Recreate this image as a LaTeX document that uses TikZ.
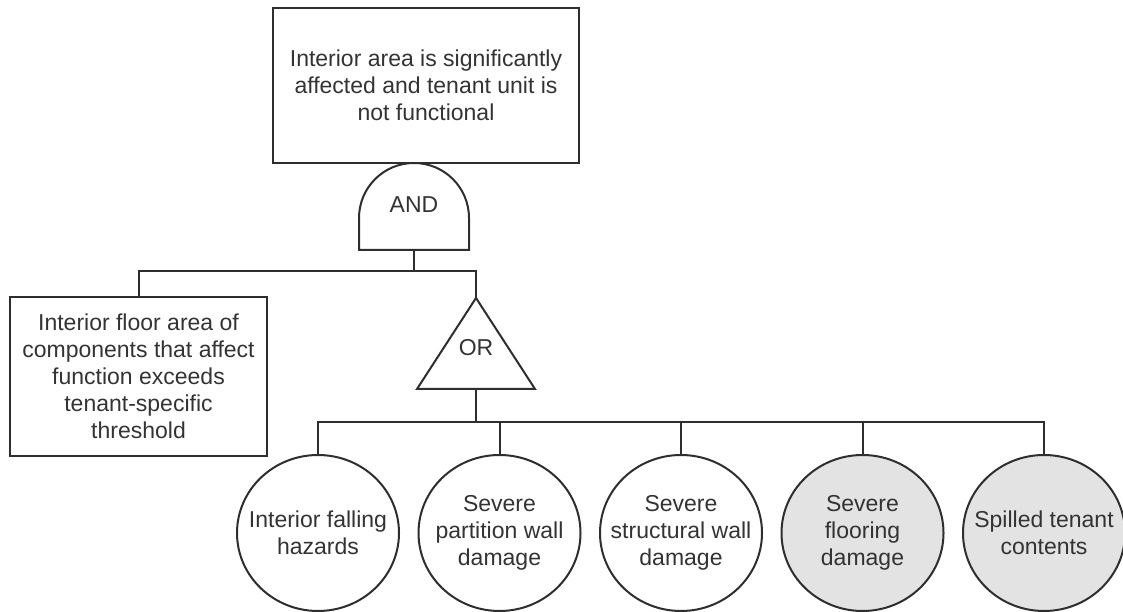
\documentclass[tikz,border=0pt]{standalone}
\usepackage{fontspec}
\setmainfont{Liberation Sans}
\usetikzlibrary{shapes.geometric}
\definecolor{ink}{HTML}{2E2E2E}
\definecolor{txt}{HTML}{333333}
\definecolor{shade}{HTML}{E3E3E3}
\begin{document}
\begin{tikzpicture}[x=1pt,y=1pt,
  link/.style={draw=ink, line width=2pt},
  lbl/.style={text=txt, align=center, inner sep=0pt,
    font=\fontsize{23}{27}\selectfont},
  box/.style={lbl, draw=ink, line width=2pt, rectangle},
  event/.style={draw=ink, line width=2pt, ellipse, fill=white,
    minimum width=162pt, minimum height=156pt, inner sep=0pt},
  basic/.style={event, fill=white},
  undev/.style={event, fill=shade}]
\useasboundingbox (0,0) rectangle (1123,612);

% top event
\node[box, minimum width=306pt, minimum height=155pt] (top) at (426,526.5)
  {Interior area is significantly\\affected and tenant unit is\\not functional};

% AND gate
\coordinate (andout) at (414,362);
\draw[link, line join=miter] (359,362) -- (359,394)
  arc[start angle=180, end angle=0, radius=55] -- (469,362) -- cycle;
\node[lbl] (andg) at (414,407) {AND};

% left intermediate event
\node[box, minimum width=257pt, minimum height=159pt] (left) at (138.5,235.5)
  {Interior floor area of\\components that affect\\function exceeds\\tenant-specific\\threshold};

% OR gate
\coordinate (orin) at (476,314);
\coordinate (orout) at (476,223);
\draw[link, line join=miter] (orin) -- (535,223) -- (417,223) -- cycle;
\node[lbl] (org) at (476,264) {OR};

% basic events
\node[basic] (e1) at (318,79) {};
\node[basic] (e2) at (499.5,79) {};
\node[basic] (e3) at (681,79) {};
\node[undev] (e4) at (862.5,79) {};
\node[undev] (e5) at (1044,79) {};
\node[lbl] (t1) at (e1) {Interior falling\\hazards};
\node[lbl] (t2) at (e2) {Severe\\partition wall\\damage};
\node[lbl] (t3) at (e3) {Severe\\structural wall\\damage};
\node[lbl] (t4) at (e4) {Severe\\flooring\\damage};
\node[lbl] (t5) at (e5) {Spilled tenant\\contents};

% connectors
\draw[link] (andout) -- ++(0,-21) coordinate (bus1);
\draw[link] (left.north) |- (orin |- bus1) -- (orin);
\draw[link] (orout) -- ++(0,-33) coordinate (bus2);
\draw[link] (e1.north) |- (e5.north |- bus2) -- (e5.north);
\draw[link] (e2.north) -- (e2.north |- bus2);
\draw[link] (e3.north) -- (e3.north |- bus2);
\draw[link] (e4.north) -- (e4.north |- bus2);
\end{tikzpicture}
\end{document}
